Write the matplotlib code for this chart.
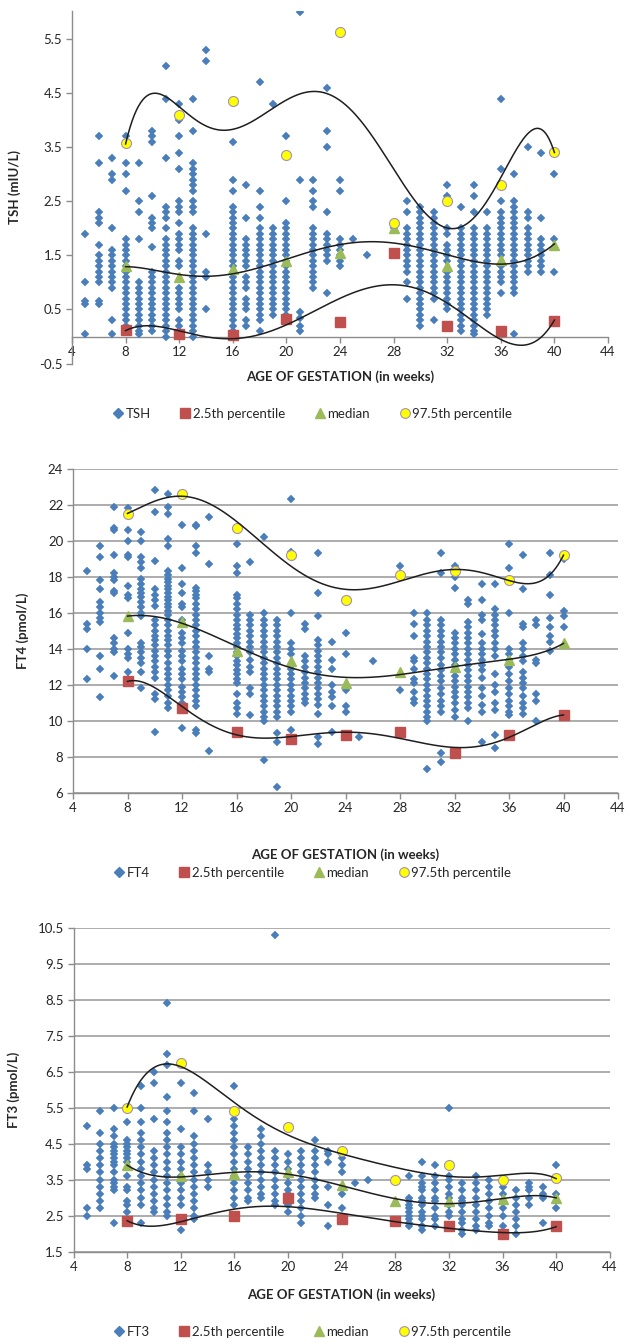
import numpy as np
import matplotlib
matplotlib.use('Agg')
import matplotlib.pyplot as plt
from matplotlib.lines import Line2D

plt.rcParams['font.family'] = ['Lato', 'DejaVu Sans']

# ---------------- data ----------------
PCT_WEEKS = [8, 12, 16, 20, 24, 28, 32, 36, 40]
X_TICKS = [4, 8, 12, 16, 20, 24, 28, 32, 36, 40, 44]
X_TITLE = "AGE OF GESTATION (in weeks)"
LEGEND_PCT = ["2.5th percentile", "median", "97.5th percentile"]

tsh_p025 = [0.12, 0.05, 0.03, 0.32, 0.27, 1.55, 0.20, 0.10, 0.28]
tsh_median = [1.30, 1.10, 1.25, 1.40, 1.55, 2.00, 1.30, 1.42, 1.70]
tsh_p975 = [3.58, 4.10, 4.35, 3.35, 5.63, 2.10, 2.50, 2.80, 3.42]
tsh_ticks = [-0.5, 0.5, 1.5, 2.5, 3.5, 4.5, 5.5]
tsh_cols = {
    5: [0.05, 0.6, 0.65, 1.0, 1.9],
    6: [3.7, 3.2, 2.3, 2.2, 2.1, 1.7, 1.5, 1.4, 1.3, 1.2, 1.1, 1.0, 0.65, 0.6],
    7: [3.3, 3.0, 2.9, 2.0, 1.6, 1.5, 1.4, 1.3, 1.2, 1.1, 1.0, 0.9, 0.3, 0.05],
    8: [3.7, 3.2, 3.0, 2.7, 1.8, 1.7, 1.6, 1.5, 1.4, 1.3, 1.2, 1.1, 1.0, 0.9, 0.8,
        0.7, 0.6, 0.5, 0.4, 0.3, 0.2, 0.1],
    9: [3.2, 2.5, 2.3, 1.8, 1.0, 0.9, 0.8, 0.7, 0.6, 0.5, 0.4, 0.3, 0.2, 0.1, 0.05],
    10: [3.8, 3.7, 3.6, 2.6, 2.2, 2.1, 2.0, 1.65, 1.2, 1.1, 1.0, 0.9, 0.8, 0.7, 0.6,
         0.5, 0.4, 0.3, 0.2, 0.1],
    11: [5.0, 4.4, 3.3, 2.4, 2.3, 2.2, 2.0, 1.8, 1.7, 1.6, 1.5, 1.4, 1.3, 1.2, 1.1,
         1.0, 0.9, 0.8, 0.7, 0.6, 0.5, 0.4, 0.3, 0.2, 0.1, 0.0],
    12: [4.3, 4.0, 3.7, 3.4, 3.1, 2.5, 2.4, 2.3, 2.1, 1.9, 1.8, 1.7, 1.6, 1.4, 1.3,
         0.9, 0.8, 0.7, 0.6, 0.5, 0.3, 0.2, 0.1, 0.05],
    13: [4.4, 3.8, 3.2, 3.1, 3.0, 2.9, 2.8, 2.7, 2.5, 2.4, 2.3, 2.0, 1.9, 1.8, 1.7,
         1.6, 1.5, 1.4, 1.3, 1.2, 1.1, 1.0, 0.9, 0.8, 0.7, 0.6, 0.5, 0.4, 0.3, 0.2,
         0.1, 0.0],
    14: [5.3, 5.1, 1.9, 1.2, 1.1, 0.5],
    16: [3.6, 2.9, 2.7, 2.4, 2.3, 2.2, 2.1, 2.0, 1.9, 1.8, 1.7, 1.6, 1.5, 1.4, 1.3,
         1.2, 1.1, 1.0, 0.9, 0.8, 0.7, 0.6, 0.5, 0.4, 0.3, 0.2, 0.1],
    17: [2.8, 2.2, 1.8, 1.7, 1.6, 1.5, 1.4, 1.3, 1.1, 1.0, 0.9, 0.7, 0.6, 0.5, 0.3, 0.2],
    18: [4.7, 2.7, 2.4, 2.2, 2.0, 1.9, 1.8, 1.7, 1.6, 1.5, 1.4, 1.3, 1.2, 1.1, 1.0,
         0.9, 0.8, 0.7, 0.6, 0.5, 0.4, 0.3, 0.1],
    19: [4.3, 2.0, 1.9, 1.8, 1.7, 1.6, 1.5, 1.4, 1.3, 1.2, 1.1, 1.0, 0.9, 0.8, 0.7,
         0.6, 0.5, 0.4],
    20: [3.7, 2.5, 2.1, 2.0, 1.9, 1.8, 1.7, 1.6, 1.5, 1.4, 1.3, 1.2, 1.1, 1.0, 0.9,
         0.8, 0.7, 0.6, 0.5, 0.4, 0.3],
    21: [6.0, 2.9, 0.45, 0.35, 0.2, 0.1],
    22: [2.9, 2.7, 2.5, 2.4, 2.0, 1.9, 1.8, 1.7, 1.6, 1.5, 1.4, 1.3, 1.2, 1.1, 1.0, 0.9],
    23: [4.6, 3.8, 3.5, 2.3, 1.9, 1.8, 1.7, 1.6, 1.5, 1.4, 0.8],
    24: [2.9, 2.7, 1.8, 1.7, 1.6, 1.5, 1.4, 1.3],
    25: [1.8],
    26: [1.5],
    28: [2.0],
    29: [2.5, 2.3, 2.0, 1.9, 1.8, 1.7, 1.6, 1.5, 1.4, 1.3, 1.2, 1.0, 0.7],
    30: [2.4, 2.3, 2.2, 2.1, 2.0, 1.9, 1.8, 1.7, 1.6, 1.5, 1.4, 1.3, 1.2, 1.1, 1.0,
         0.9, 0.8, 0.7, 0.6, 0.5, 0.4, 0.3, 0.2],
    31: [2.3, 2.2, 2.1, 2.0, 1.9, 1.8, 1.7, 1.6, 1.5, 1.4, 1.3, 1.2, 1.1, 1.0, 0.9,
         0.8, 0.7, 0.3],
    32: [2.8, 2.6, 2.0, 1.9, 1.7, 1.6, 1.5, 1.4, 1.2, 1.1, 1.0, 0.9, 0.8, 0.7, 0.6, 0.5],
    33: [2.4, 2.0, 1.9, 1.8, 1.7, 1.6, 1.5, 1.4, 1.3, 1.2, 1.1, 1.0, 0.9, 0.8, 0.7,
         0.6, 0.5, 0.4, 0.3, 0.2, 0.1],
    34: [2.8, 2.6, 2.3, 2.0, 1.9, 1.8, 1.7, 1.6, 1.5, 1.4, 1.3, 1.2, 1.1, 1.0, 0.9,
         0.8, 0.7, 0.6, 0.5, 0.4, 0.3, 0.2, 0.1, 0.05],
    35: [2.3, 2.0, 1.9, 1.8, 1.7, 1.6, 1.5, 1.4, 1.3, 1.2, 1.1, 1.0, 0.9, 0.8, 0.7,
         0.6, 0.5, 0.4],
    36: [4.4, 3.1, 2.5, 2.3, 2.2, 2.1, 2.0, 1.9, 1.8, 1.7, 1.6, 1.5, 1.3, 1.2, 1.1,
         1.0, 0.8],
    37: [3.0, 2.5, 2.4, 2.3, 2.2, 2.1, 2.0, 1.9, 1.8, 1.7, 1.6, 1.5, 1.4, 1.3, 1.2,
         1.1, 1.0, 0.9, 0.8, 0.05],
    38: [3.5, 2.3, 2.2, 2.0, 1.9, 1.8, 1.7, 1.6, 1.5, 1.4, 1.3, 1.2],
    39: [3.4, 2.2, 1.8, 1.7, 1.6, 1.5, 1.4, 1.3, 1.2],
    40: [3.0, 1.8, 1.2],
}

ft4_p025 = [12.2, 10.7, 9.4, 9.0, 9.2, 9.4, 8.2, 9.2, 10.3]
ft4_median = [15.8, 15.5, 13.9, 13.3, 12.1, 12.7, 13.0, 13.4, 14.3]
ft4_p975 = [21.5, 22.6, 20.7, 19.2, 16.7, 18.1, 18.3, 17.8, 19.2]
ft4_ticks = [6, 8, 10, 12, 14, 16, 18, 20, 22, 24]
ft4_cols = {
    5: [18.3, 15.4, 15.1, 14.0, 12.3],
    6: [19.7, 19.1, 17.8, 17.3, 16.6, 16.3, 16.0, 15.7, 15.5, 13.6, 12.9, 11.3],
    7: [21.9, 20.7, 20.6, 19.2, 18.2, 18.0, 17.8, 17.2, 17.1, 14.6, 14.3, 14.0, 13.8, 12.5],
    8: [21.8, 20.6, 20.0, 19.2, 19.1, 17.5, 17.0, 16.8, 14.9, 14.0, 13.7, 13.5, 12.7, 12.3],
    9: [20.5, 20.0, 19.1, 18.8, 18.5, 17.9, 17.6, 17.3, 17.1, 16.9, 16.6, 16.3, 16.0,
        15.8, 14.3, 14.1, 13.8, 13.5, 13.2, 12.7, 11.8],
    10: [22.8, 21.6, 18.9, 17.3, 17.0, 16.7, 16.4, 15.6, 15.3, 15.0, 14.7, 14.5, 14.2,
         13.9, 13.6, 13.3, 13.0, 12.7, 12.4, 11.5, 11.2, 9.4],
    11: [22.6, 21.9, 21.5, 20.1, 19.7, 18.3, 18.1, 17.9, 17.7, 17.5, 17.3, 17.1, 16.9,
         16.7, 16.5, 16.3, 16.1, 15.9, 15.6, 15.3, 15.0, 14.7, 14.5, 14.2, 13.9, 13.6,
         13.2, 12.9, 12.6, 12.3, 12.0, 11.7, 11.4, 11.0, 10.7],
    12: [22.6, 20.9, 18.5, 17.6, 17.1, 16.5, 16.3, 15.6, 14.9, 14.6, 14.3, 13.9, 13.6,
         13.3, 12.9, 12.6, 12.3, 11.9, 11.6, 11.3, 11.0, 9.6],
    13: [20.9, 20.8, 19.7, 19.3, 17.4, 17.2, 17.0, 16.8, 16.5, 16.2, 15.9, 15.6, 15.3,
         15.0, 14.7, 14.4, 14.1, 13.8, 13.5, 13.2, 12.9, 12.6, 12.3, 12.0, 11.7, 11.4,
         11.1, 10.8, 9.5, 9.3],
    14: [21.3, 18.7, 13.6, 12.9, 12.7, 8.3],
    16: [19.8, 18.6, 18.2, 17.0, 16.8, 16.5, 16.2, 15.9, 15.6, 15.3, 15.1, 14.8, 14.6,
         14.3, 14.1, 13.8, 13.6, 13.3, 13.1, 12.8, 12.6, 12.3, 12.1, 11.5, 11.0, 10.7, 10.4],
    17: [18.8, 15.9, 15.6, 15.3, 15.0, 14.7, 14.4, 14.1, 13.8, 13.4, 13.0, 12.7, 11.8,
         11.5, 10.3],
    18: [20.2, 16.0, 15.6, 15.3, 15.0, 14.7, 14.4, 14.1, 13.8, 13.5, 13.2, 12.9, 12.6,
         12.3, 12.0, 11.7, 11.4, 11.1, 10.8, 10.5, 10.2, 10.0, 7.8],
    19: [15.6, 15.3, 15.0, 14.7, 14.4, 14.1, 13.8, 13.5, 13.2, 12.9, 12.6, 12.3, 12.0,
         11.7, 11.4, 11.1, 10.8, 10.5, 10.2, 9.3, 8.8, 6.3],
    20: [22.3, 19.4, 16.0, 14.3, 14.0, 13.7, 12.9, 12.6, 12.3, 12.0, 11.7, 11.4, 11.1,
         10.8, 10.5, 9.5],
    21: [15.4, 15.1, 13.6, 13.3, 13.0, 12.7, 12.4, 12.1, 11.8, 11.5, 11.2, 11.0],
    22: [19.3, 17.1, 15.8, 14.5, 14.2, 13.9, 13.6, 13.3, 13.0, 12.7, 12.4, 12.1, 11.8,
         11.5, 11.2, 10.9, 10.4, 9.1, 8.7],
    23: [14.4, 13.4, 12.9, 12.0, 11.6, 11.3, 10.8, 9.4],
    24: [14.9, 13.7, 11.7, 10.8, 10.5],
    25: [9.1],
    26: [13.3],
    28: [18.6, 11.7],
    29: [16.0, 15.4, 14.7, 13.5, 13.3, 12.9, 12.3, 12.1, 11.6, 11.2, 11.0],
    30: [16.0, 15.6, 15.3, 15.0, 14.7, 14.4, 14.1, 13.8, 13.5, 13.2, 12.9, 12.6, 12.3,
         12.0, 11.7, 11.4, 11.1, 10.8, 10.5, 10.2, 10.0, 7.3],
    31: [19.3, 18.2, 15.6, 15.3, 15.0, 14.7, 14.4, 14.1, 13.8, 13.5, 13.1, 12.8, 12.5,
         12.2, 11.8, 11.5, 11.1, 10.8, 10.5, 8.2, 7.7],
    32: [18.6, 18.0, 17.4, 14.9, 14.6, 14.3, 14.0, 13.7, 13.4, 13.1, 12.8, 12.5, 12.2,
         11.9, 11.6, 11.3, 11.0, 10.6, 10.2],
    33: [16.7, 16.5, 15.5, 15.2, 14.9, 14.6, 14.3, 14.0, 13.7, 13.4, 13.1, 12.8, 12.5,
         12.2, 11.9, 11.6, 11.3, 11.0, 10.7, 10.0],
    34: [17.6, 16.7, 15.9, 15.6, 14.8, 14.3, 14.0, 13.7, 13.4, 13.1, 12.8, 12.4, 11.8,
         11.4, 10.9, 10.5, 8.8],
    35: [17.6, 16.2, 15.9, 15.6, 15.3, 15.0, 14.7, 14.3, 14.0, 13.6, 12.6, 12.0, 11.6,
         11.0, 10.6, 9.2, 8.5],
    36: [19.8, 18.5, 16.0, 14.0, 13.7, 13.4, 13.0, 12.6, 12.2, 11.8, 11.5, 11.1, 10.8,
         10.5, 10.3],
    37: [19.2, 17.3, 15.4, 15.2, 14.3, 14.0, 13.6, 13.3, 12.7, 12.4, 12.1, 11.8, 11.4,
         11.0, 10.7, 10.4],
    38: [15.6, 15.3, 13.4, 13.2, 11.5, 11.1, 10.0],
    39: [19.3, 18.1, 17.0, 15.7, 15.2, 14.7, 14.4, 13.9],
    40: [19.0, 16.1, 15.8, 15.2],
}

ft3_p025 = [2.35, 2.40, 2.50, 3.00, 2.40, 2.35, 2.20, 2.00, 2.20]
ft3_median = [3.90, 3.60, 3.65, 3.70, 3.35, 2.90, 2.90, 2.95, 3.00]
ft3_p975 = [5.50, 6.75, 5.40, 4.95, 4.30, 3.50, 3.90, 3.50, 3.55]
ft3_ticks = [1.5, 2.5, 3.5, 4.5, 5.5, 6.5, 7.5, 8.5, 9.5, 10.5]
ft3_cols = {
    5: [5.0, 3.9, 3.8, 2.7, 2.5],
    6: [5.4, 4.8, 4.5, 4.3, 4.1, 3.9, 3.7, 3.5, 3.3, 3.1, 2.9, 2.7],
    7: [5.5, 4.9, 4.7, 4.5, 4.4, 4.3, 4.2, 4.1, 4.0, 3.9, 3.7, 3.5, 3.4, 3.3, 3.2, 2.3],
    8: [5.1, 4.6, 4.5, 4.4, 4.3, 4.2, 4.1, 4.0, 3.6, 3.3, 3.2, 2.9, 2.8, 2.6],
    9: [6.1, 5.5, 5.1, 4.8, 4.6, 4.4, 4.2, 4.0, 3.8, 3.6, 3.4, 3.2, 3.0, 2.8, 2.3],
    10: [6.5, 6.2, 5.2, 4.3, 4.1, 3.9, 3.7, 3.5, 3.3, 3.1, 2.9, 2.7, 2.6],
    11: [8.4, 7.0, 6.7, 5.8, 5.4, 5.1, 4.8, 4.6, 4.4, 4.2, 4.0, 3.8, 3.6, 3.4, 3.2,
         3.0, 2.8, 2.6, 2.5],
    12: [6.2, 4.9, 4.4, 4.2, 4.0, 3.8, 3.6, 3.4, 3.2, 3.0, 2.8, 2.1],
    13: [5.9, 5.4, 4.7, 4.5, 4.3, 4.1, 3.9, 3.7, 3.5, 3.3, 3.1, 2.9, 2.7, 2.5, 2.4],
    14: [5.2, 3.9, 3.7, 3.5, 3.3],
    16: [6.1, 5.2, 5.0, 4.8, 4.6, 4.4, 4.2, 4.0, 3.8, 3.6, 3.4, 3.2, 3.0, 2.8],
    17: [4.4, 4.2, 4.0, 3.8, 3.6, 3.4, 3.2, 3.0, 2.9],
    18: [4.9, 4.7, 4.5, 4.3, 4.1, 3.9, 3.7, 3.5, 3.3, 3.1, 3.0],
    19: [10.3, 4.3, 4.1, 3.9, 3.7, 3.5, 3.3, 3.1, 2.9, 2.8],
    20: [4.2, 4.0, 3.8, 3.6, 3.4, 3.2, 3.1, 2.8, 2.6],
    21: [4.3, 4.1, 3.9, 3.7, 3.5, 3.3, 3.1, 2.9, 2.7, 2.5, 2.3],
    22: [4.6, 4.3, 4.1, 3.9, 3.7, 3.5, 3.3, 3.1, 3.0],
    23: [4.3, 4.2, 4.0, 3.3, 2.8, 2.2],
    24: [4.1, 3.9, 3.7, 3.1, 2.7],
    25: [3.4],
    26: [3.5],
    29: [3.6, 3.0, 2.9, 2.8, 2.7, 2.6, 2.5, 2.4, 2.3, 2.2],
    30: [4.0, 3.6, 3.4, 3.3, 3.2, 3.0, 2.9, 2.8, 2.6, 2.5, 2.4, 2.2, 2.1],
    31: [3.9, 3.6, 3.4, 3.2, 3.0, 2.9, 2.7, 2.5, 2.4, 2.2],
    32: [5.5, 3.6, 3.5, 3.3, 3.1, 3.0, 2.8, 2.6, 2.5],
    33: [3.4, 3.2, 3.0, 2.9, 2.8, 2.6, 2.4, 2.3, 2.1, 2.0],
    34: [3.6, 3.4, 3.2, 3.0, 2.8, 2.6, 2.4, 2.2, 2.1],
    35: [3.5, 3.3, 3.1, 2.9, 2.7, 2.5, 2.3, 2.2],
    36: [3.3, 3.1, 2.9, 2.7, 2.5, 2.2],
    37: [3.2, 3.0, 2.8, 2.6, 2.4, 2.2, 2.0],
    38: [3.4, 3.3, 3.2, 3.0, 2.8],
    39: [3.3, 3.1, 3.0, 2.3],
    40: [3.9, 3.1, 2.7],
}

# ---------------- style ----------------
BLUE = '#4A7EBB'
RED = '#C0504D'
GREEN = '#9BBB59'
YELLOW = '#FFFF00'
YEDGE = '#A590B5'
AXIS_C = '#8C8C8C'
GRID_C = '#A6A6A6'
TXT_C = '#262626'
FS = 9.5

fig = plt.figure(figsize=(6.25, 13.42), dpi=100)

specs = [
    dict(rect=[0.1152, 0.7291, 0.8576, 0.2627], cols=tsh_cols, p=(tsh_p025, tsh_median, tsh_p975),
         ticks=tsh_ticks, ylim=(-0.5, 6.02), ylabel='TSH (mIU/L)', name='TSH', grid=False,
         xaxis_at=0.0, ylab_x=-0.095, title_y=0.7191, leg_y=0.6915),
    dict(rect=[0.1168, 0.4093, 0.872, 0.2414], cols=ft4_cols, p=(ft4_p025, ft4_median, ft4_p975),
         ticks=ft4_ticks, ylim=(6, 24), ylabel='FT4 (pmol/L)', name='FT4', grid=True,
         xaxis_at=None, ylab_x=-0.08, title_y=0.3629, leg_y=0.3495),
    dict(rect=[0.1176, 0.0673, 0.858, 0.2414], cols=ft3_cols, p=(ft3_p025, ft3_median, ft3_p975),
         ticks=ft3_ticks, ylim=(1.5, 10.5), ylabel='FT3 (pmol/L)', name='FT3', grid=True,
         xaxis_at=None, ylab_x=-0.10, title_y=0.0350, leg_y=0.0075),
]

fine = np.linspace(8, 40, 400)

for sp in specs:
    ax = fig.add_axes(sp['rect'])
    xs, ys = [], []
    for w, vals in sp['cols'].items():
        xs += [w] * len(vals)
        ys += vals
    ax.plot(xs, ys, linestyle='none', marker='D', ms=4.4, color=BLUE, mec=BLUE, mew=0.3, zorder=3)
    p025, med, p975 = sp['p']
    ax.plot(PCT_WEEKS, p025, linestyle='none', marker='s', ms=7.2, color=RED, mec=RED, zorder=4)
    ax.plot(PCT_WEEKS, med, linestyle='none', marker='^', ms=7.5, color=GREEN, mec=GREEN, zorder=4)
    ax.plot(PCT_WEEKS, p975, linestyle='none', marker='o', ms=7.2, color=YELLOW, mec=YEDGE,
            mew=0.8, zorder=4)
    for series in (p025, med, p975):
        c = np.polyfit(PCT_WEEKS, series, 6)
        ax.plot(fine, np.polyval(c, fine), color='#1E1E1E', lw=1.1, zorder=5)

    ax.set_xlim(4, 44)
    ax.set_ylim(*sp['ylim'])
    ax.set_xticks(X_TICKS)
    ax.set_yticks(sp['ticks'])
    ax.set_yticklabels([f"{t:g}" for t in sp['ticks']])
    for s in ('top', 'right'):
        ax.spines[s].set_visible(False)
    for s in ('left', 'bottom'):
        ax.spines[s].set_color(AXIS_C)
        ax.spines[s].set_linewidth(1.0)
    if sp['xaxis_at'] is not None:
        ax.spines['bottom'].set_position(('data', sp['xaxis_at']))
    ax.tick_params(axis='both', colors=AXIS_C, labelcolor=TXT_C, labelsize=FS,
                   length=4, width=1.0, direction='out')
    ax.tick_params(axis='x', pad=3)
    ax.tick_params(axis='y', pad=3)
    if sp['grid']:
        ax.yaxis.grid(True, color=GRID_C, lw=1.3)
        ax.set_axisbelow(True)
    ax.set_ylabel(sp['ylabel'], fontsize=FS, fontweight='bold', color=TXT_C)
    ax.yaxis.set_label_coords(sp['ylab_x'], 0.5)
    bb = sp['rect']
    fig.text(bb[0] + bb[2] / 2, sp['title_y'], X_TITLE, ha='center', va='center',
             fontsize=FS, fontweight='bold', color=TXT_C)
    handles = [
        Line2D([], [], linestyle='none', marker='D', ms=5, color=BLUE),
        Line2D([], [], linestyle='none', marker='s', ms=7, color=RED),
        Line2D([], [], linestyle='none', marker='^', ms=7, color=GREEN),
        Line2D([], [], linestyle='none', marker='o', ms=7, color=YELLOW, mec=YEDGE, mew=0.8),
    ]
    labels = [sp['name']] + LEGEND_PCT
    fig.legend(handles, labels, loc='center', bbox_to_anchor=(0.5, sp['leg_y']), ncol=4,
               frameon=False, fontsize=FS, handlelength=0.8, handletextpad=0.2,
               columnspacing=2.2, labelcolor=TXT_C)

fig.savefig('out.png', dpi=100)
